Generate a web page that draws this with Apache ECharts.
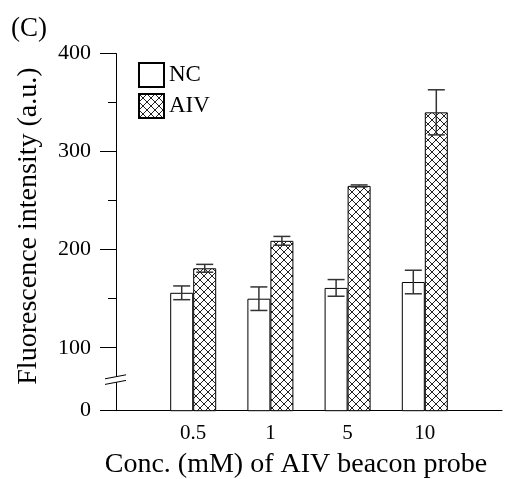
<!DOCTYPE html>
<html lang="en">
<head>
    <meta charset="UTF-8">
    <title>Fluorescence intensity</title>
    <script src="https://cdn.jsdelivr.net/npm/echarts@6/dist/echarts.min.js"></script>
    <style>
        html, body { margin: 0; padding: 0; background: #fff; }
        #chart { width: 505px; height: 479px; }
    </style>
</head>
<body>
<div id="chart"></div>
<script type="text/javascript">
    // data (empty categories pad the axis ends)
    var categories = ['', '0.5', '1', '5', '10', ''];
    var ncValues = ['-', 156, 150, 161, 167, '-'];
    var ncErrors = [0, 7, 12, 8.5, 12, 0];
    var aivValues = ['-', 181, 209, 265, 340, '-'];
    var aivErrors = [0, 4, 4.5, 1, 23, 0];
    var yTicks = [0, 100, 200, 300, 400];
    var yMinorTicks = [150, 250, 350];

    // the axis is broken between 0 and 100; "0" sits at this value
    var axisFloor = 35.8;
    var breakAt = 67.6;
    var font = "'Liberation Serif', 'Times New Roman', serif";
    var barW = 23;

    // cross-hatch fill for the AIV bars
    var hatch = document.createElement('canvas');
    hatch.width = 8;
    hatch.height = 8;
    var hc = hatch.getContext('2d');
    hc.fillStyle = '#fff';
    hc.fillRect(0, 0, 8, 8);
    hc.strokeStyle = '#222';
    hc.lineWidth = 1;
    hc.beginPath();
    hc.moveTo(0, 0); hc.lineTo(8, 8);
    hc.moveTo(8, 0); hc.lineTo(0, 8);
    hc.stroke();

    function errorSeries(name, values, errors, shift) {
        var d = [];
        for (var i = 0; i < values.length; i++) {
            if (values[i] !== '-') d.push([i, values[i] - errors[i], values[i] + errors[i]]);
        }
        return {
            name: name + ' err',
            type: 'custom',
            z: 5,
            data: d,
            renderItem: function (params, api) {
                var lo = api.coord([api.value(0), api.value(1)]);
                var hi = api.coord([api.value(0), api.value(2)]);
                var x = lo[0] + shift;
                var cap = 8.5;
                var st = { stroke: '#333', lineWidth: 1.5 };
                return {
                    type: 'group',
                    children: [
                        { type: 'line', shape: { x1: x, y1: lo[1], x2: x, y2: hi[1] }, style: st },
                        { type: 'line', shape: { x1: x - cap, y1: hi[1], x2: x + cap, y2: hi[1] }, style: st },
                        { type: 'line', shape: { x1: x - cap, y1: lo[1], x2: x + cap, y2: lo[1] }, style: st }
                    ]
                };
            }
        };
    }

    var yLabels = [axisFloor].concat(yTicks.slice(1));

    var option = {
        animation: false,
        title: {
            text: '(C)',
            left: 11,
            top: 15,
            padding: 0,
            textStyle: { fontFamily: font, fontSize: 27, fontWeight: 'normal', color: '#000' }
        },
        legend: {
            orient: 'vertical',
            left: 138,
            top: 62,
            padding: 0,
            itemWidth: 25,
            itemHeight: 24,
            itemGap: 5,
            icon: 'rect',
            data: ['NC', 'AIV'],
            textStyle: { fontFamily: font, fontSize: 23, color: '#000' }
        },
        grid: { left: 116, right: 0, top: 53.5, bottom: 68.3, containLabel: false },
        xAxis: {
            type: 'category',
            data: categories,
            boundaryGap: false,
            axisLine: { lineStyle: { color: '#000', width: 1 } },
            axisTick: { show: false },
            axisLabel: { fontFamily: font, fontSize: 21, color: '#000', margin: 12 },
            splitLine: { show: false }
        },
        yAxis: [{
            type: 'value',
            min: axisFloor,
            max: 400,
            name: 'Fluorescence intensity (a.u.)',
            nameLocation: 'middle',
            nameGap: 73,
            nameTextStyle: { fontFamily: font, fontSize: 28, color: '#000', padding: [0, 0, 0, 12] },
            axisLine: { show: true, lineStyle: { color: '#000', width: 1 } },
            axisTick: { show: true, length: 16, customValues: yLabels, lineStyle: { color: '#000' } },
            axisLabel: {
                fontFamily: font, fontSize: 22, color: '#000', margin: 25,
                customValues: yLabels,
                formatter: function (v) { return v === axisFloor ? '0' : String(v); }
            },
            splitLine: { show: false }
        }, {
            type: 'value',
            min: axisFloor,
            max: 400,
            position: 'left',
            axisLine: { show: false },
            axisTick: { show: true, length: 8, customValues: yMinorTicks, lineStyle: { color: '#000' } },
            axisLabel: { show: false },
            splitLine: { show: false }
        }],
        series: [{
            name: 'NC',
            type: 'bar',
            data: ncValues,
            barWidth: barW,
            barGap: '0%',
            clip: true,
            itemStyle: { color: '#fff', borderColor: '#000', borderWidth: 1 }
        }, {
            name: 'AIV',
            type: 'bar',
            data: aivValues,
            barWidth: barW,
            barGap: '0%',
            clip: true,
            itemStyle: { color: { image: hatch, repeat: 'repeat' }, borderColor: '#000', borderWidth: 1 }
        },
            errorSeries('NC', ncValues, ncErrors, -barW / 2),
            errorSeries('AIV', aivValues, aivErrors, barW / 2)
        ]
    };

    var chart = echarts.init(document.getElementById('chart'));
    chart.setOption(option);

    // axis break marks and x axis title
    var by = chart.convertToPixel({ yAxisIndex: 0 }, breakAt);
    var ax = 116;
    chart.setOption({
        graphic: [
            { type: 'polygon', shape: { points: [[ax - 11, by - 0.7], [ax + 10, by - 4.7], [ax + 10, by + 0.9], [ax - 11, by + 4.9]] },
              style: { fill: '#fff' }, z: 100 },
            { type: 'line', shape: { x1: ax - 11, y1: by - 0.7, x2: ax + 10, y2: by - 4.7 }, style: { stroke: '#000', lineWidth: 1 }, z: 101 },
            { type: 'line', shape: { x1: ax - 11, y1: by + 4.9, x2: ax + 10, y2: by + 0.9 }, style: { stroke: '#000', lineWidth: 1 }, z: 101 },
            { type: 'text', x: 296, y: 465, z: 101,
              style: { text: 'Conc. (mM) of AIV beacon probe', fontFamily: font, fontSize: 28, fill: '#000',
                       textAlign: 'center', textVerticalAlign: 'middle' } }
        ]
    });
</script>
</body>
</html>
